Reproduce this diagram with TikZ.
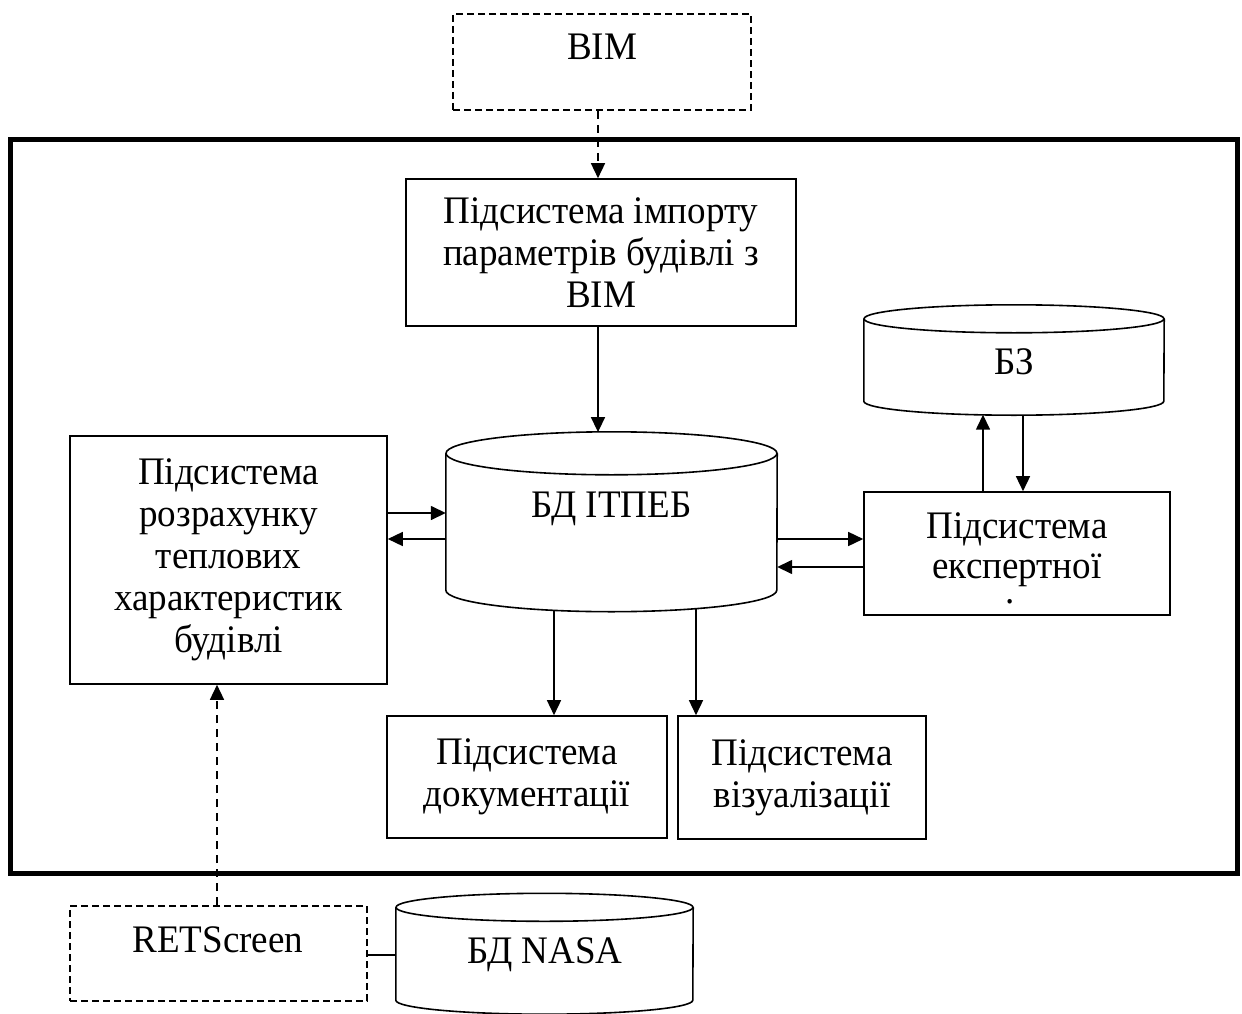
\documentclass[tikz,border=0pt]{standalone}
\usepackage{fontspec}
\setmainfont[FakeStretch=0.95]{Liberation Serif}
\usetikzlibrary{arrows.meta,calc}

% database cylinder drawn around an invisible body node: name, x radius, y radius
\newcommand\dbshape[3]{%
  \draw[dbline] (#1.north west) -- (#1.south west)
    arc[start angle=180,end angle=0,x radius=#2,y radius=#3] -- (#1.north east);
  \draw[dbline] (#1.north) ellipse[x radius=#2,y radius=#3];
}

\tikzset{
  lbl/.style={font=\fontsize{39}{42}\selectfont, inner sep=0pt, align=center},
  blk/.style={lbl, draw, line width=1.6pt, rectangle},
  extblk/.style={blk, dash pattern=on 7pt off 4pt},
  shell/.style={draw=none, inner sep=0pt, rectangle},
  flow/.style={line width=1.5pt, -{Triangle[length=15pt,width=14pt]}},
  extflow/.style={flow, dash pattern=on 8pt off 6pt},
  dbline/.style={line width=1.6pt},
}

\begin{document}
\begin{tikzpicture}[x=1pt,y=-1pt]
\useasboundingbox (0,0) rectangle (1242,1014);

% system boundary
\node[draw, line width=5pt, minimum width=1227pt, minimum height=733pt, inner sep=0pt] (system) at (623.5,506.5) {};

% external sources
\node[extblk, minimum width=298pt, minimum height=96pt] (bim) at (602,62) {};
\node[lbl, anchor=base] (bim-t) at (602,60) {BIM};
\node[extblk, minimum width=297pt, minimum height=95pt] (ret) at (218.5,953.5) {};
\node[lbl, anchor=base] (ret-t) at (218,952) {RETScreen};

% subsystems
\node[blk, minimum width=390pt, minimum height=147pt] (import) at (601,252.5)
  {Підсистема імпорту\\параметрів будівлі з\\BIM};
\node[blk, minimum width=317pt, minimum height=248pt] (thermal) at (228.5,560)
  {Підсистема\\розрахунку\\теплових\\характеристик\\будівлі};
\node[blk, minimum width=306pt, minimum height=123pt] (expert) at (1017,553.5) {};
\node[lbl, anchor=base] (exp-t1) at (1017,538) {Підсистема};
\node[lbl, anchor=base] (exp-t2) at (1017,578) {експертної};
\node[lbl, anchor=base] (exp-t3) at (1010,603) {.};
\node[blk, minimum width=280pt, minimum height=122pt] (docs) at (527,777)
  {Підсистема\\документації};
\node[blk, minimum width=248pt, minimum height=123pt] (vis) at (802,777.5)
  {Підсистема\\візуалізації};

% databases
\node[shell, minimum width=331pt, minimum height=136.5pt] (itpeb) at (611.5,521.75) {};
\dbshape{itpeb}{165.5}{21.5}
\node[lbl, anchor=base] (itpeb-t) at (611.5,517) {БД ІТПЕБ};

\node[shell, minimum width=300pt, minimum height=82pt] (kb) at (1014,360) {};
\dbshape{kb}{150}{14}
\node[lbl, anchor=base] (kb-t) at (1014,374) {БЗ};

\node[shell, minimum width=297pt, minimum height=92.5pt] (nasa) at (544.5,953.75) {};
\dbshape{nasa}{148.5}{14}
\node[lbl, anchor=base] (nasa-t) at (545,963) {БД NASA};

% connector columns, rows and points on the cylinder rims
\coordinate (colA) at (598,0);
\coordinate (colB) at (554,0);
\coordinate (colC) at (696,0);
\coordinate (colD) at (983,0);
\coordinate (colE) at (1023,0);
\coordinate (colF) at (217,0);
\coordinate (rowA) at (0,513);
\coordinate (rowB) at (0,539);
\coordinate (rowC) at (0,567);
\coordinate (rowD) at (0,955);
\coordinate (itpeb-in) at (598,432.1);
\coordinate (itpeb-d1) at (554,610.2);
\coordinate (itpeb-d2) at (696,608.5);
\coordinate (kb-up) at (983,414.7);
\coordinate (kb-down) at (1023,415);

% connectors
\draw[extflow] (bim.south -| colA) -- (import.north -| colA);
\draw[flow] (import.south -| colA) -- (itpeb-in);
\draw[flow] (thermal.east |- rowA) -- (itpeb.west |- rowA);
\draw[flow] (itpeb.west |- rowB) -- (thermal.east |- rowB);
\draw[flow] (itpeb.east |- rowB) -- (expert.west |- rowB);
\draw[flow] (expert.west |- rowC) -- (itpeb.east |- rowC);
\draw[flow] (expert.north -| colD) -- (kb-up);
\draw[flow] (kb-down) -- (expert.north -| colE);
\draw[flow] (itpeb-d1) -- (docs.north -| colB);
\draw[flow] (itpeb-d2) -- (vis.north -| colC);
\draw[extflow] (ret.north -| colF) -- (thermal.south -| colF);
\draw[dbline] (ret.east |- rowD) -- (nasa.west |- rowD);
\end{tikzpicture}
\end{document}
